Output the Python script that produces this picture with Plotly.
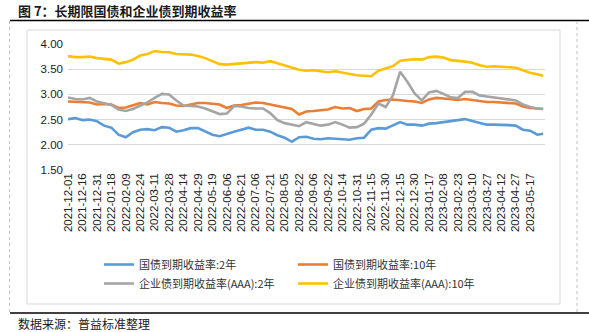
import plotly.graph_objects as go

# ---- data -------------------------------------------------------------
tick_labels = ["2021-12-01", "2021-12-16", "2021-12-31", "2022-01-18", "2022-02-09",
               "2022-02-24", "2022-03-11", "2022-03-28", "2022-04-14", "2022-04-29",
               "2022-05-19", "2022-06-06", "2022-06-21", "2022-07-06", "2022-07-21",
               "2022-08-05", "2022-08-22", "2022-09-06", "2022-09-22", "2022-10-14",
               "2022-10-31", "2022-11-15", "2022-11-30", "2022-12-15", "2022-12-30",
               "2023-01-17", "2023-02-08", "2023-02-23", "2023-03-10", "2023-03-27",
               "2023-04-12", "2023-04-27", "2023-05-17"]

# sample positions, in units of tick-label intervals (11 trading days each)
x_pos = [i * 0.5 for i in range(66)] + [32.9]

gov_2y = [2.51, 2.53, 2.49, 2.50, 2.47, 2.38, 2.34, 2.20, 2.15, 2.25, 2.30, 2.31, 2.29, 2.35,
          2.34, 2.26, 2.29, 2.33, 2.33, 2.26, 2.20, 2.17, 2.22, 2.26, 2.30, 2.34, 2.30, 2.30,
          2.26, 2.19, 2.14, 2.06, 2.15, 2.16, 2.12, 2.11, 2.13, 2.12, 2.12, 2.10, 2.13, 2.14,
          2.30, 2.33, 2.32, 2.38, 2.45, 2.40, 2.40, 2.38, 2.42, 2.43, 2.45, 2.46, 2.49, 2.51,
          2.47, 2.44, 2.40, 2.40, 2.40, 2.39, 2.38, 2.30, 2.28, 2.20, 2.22]

gov_10y = [2.86, 2.85, 2.85, 2.84, 2.80, 2.81, 2.80, 2.73, 2.74, 2.78, 2.83, 2.80, 2.85, 2.83,
           2.82, 2.78, 2.77, 2.80, 2.83, 2.83, 2.82, 2.80, 2.73, 2.78, 2.79, 2.81, 2.84, 2.83,
           2.80, 2.78, 2.75, 2.71, 2.60, 2.66, 2.67, 2.68, 2.70, 2.75, 2.72, 2.73, 2.67, 2.71,
           2.72, 2.86, 2.89, 2.90, 2.88, 2.87, 2.86, 2.83, 2.90, 2.93, 2.92, 2.90, 2.89, 2.91,
           2.89, 2.86, 2.85, 2.85, 2.84, 2.83, 2.82, 2.76, 2.73, 2.72, 2.71]

corp_2y = [2.94, 2.91, 2.90, 2.93, 2.86, 2.83, 2.79, 2.70, 2.67, 2.71, 2.78, 2.84, 2.93, 3.01,
           3.00, 2.88, 2.78, 2.77, 2.76, 2.72, 2.66, 2.61, 2.62, 2.77, 2.76, 2.73, 2.72, 2.72,
           2.63, 2.49, 2.43, 2.40, 2.37, 2.45, 2.42, 2.38, 2.40, 2.45, 2.40, 2.34, 2.35, 2.42,
           2.60, 2.82, 2.75, 2.98, 3.45, 3.25, 3.02, 2.88, 3.04, 3.07, 3.01, 2.94, 2.93, 3.05,
           3.05, 2.98, 2.96, 2.94, 2.91, 2.90, 2.88, 2.80, 2.75, 2.72, 2.71]

corp_10y = [3.76, 3.74, 3.74, 3.75, 3.72, 3.71, 3.69, 3.61, 3.64, 3.69, 3.77, 3.80, 3.86, 3.84,
            3.835, 3.80, 3.79, 3.79, 3.76, 3.72, 3.66, 3.60, 3.59, 3.60, 3.61, 3.62, 3.64, 3.63,
            3.66, 3.62, 3.58, 3.54, 3.49, 3.47, 3.48, 3.46, 3.44, 3.46, 3.43, 3.41, 3.38, 3.37,
            3.36, 3.47, 3.51, 3.56, 3.67, 3.69, 3.70, 3.69, 3.74, 3.75, 3.73, 3.68, 3.67, 3.65,
            3.63, 3.58, 3.55, 3.56, 3.55, 3.54, 3.53, 3.48, 3.43, 3.40, 3.37]

series_names = ["国债到期收益率:2年", "国债到期收益率:10年",
                "企业债到期收益率(AAA):2年", "企业债到期收益率(AAA):10年"]
series_values = [gov_2y, gov_10y, corp_2y, corp_10y]
series_colors = ["#5B9BD5", "#ED7D31", "#A5A5A5", "#FFC000"]

y_ticks = [1.5, 2.0, 2.5, 3.0, 3.5, 4.0]

# ---- layout geometry (pixels) ------------------------------------------
W, H = 589, 332
L, R, T, B = 68, 44, 44, 162
PW, PH = W - L - R, H - T - B


def px(xp):
    return (xp - L) / PW


def py(yp):
    return (H - B - yp) / PH


fig = go.Figure()
for name, vals, col in zip(series_names, series_values, series_colors):
    fig.add_trace(go.Scatter(x=x_pos, y=vals, name=name, mode="lines",
                             line=dict(color=col, width=2.6)))

fig.update_layout(
    width=W, height=H,
    margin=dict(l=L, r=R, t=T, b=B, autoexpand=False),
    paper_bgcolor="white", plot_bgcolor="white",
    font=dict(family="Liberation Sans, Arial, Noto Sans CJK SC", color="#333333", size=11),
    xaxis=dict(range=[0, 33.03], tickmode="array", tickvals=list(range(len(tick_labels))),
               ticktext=tick_labels, tickangle=-90, showgrid=False, zeroline=False,
               showline=False, ticks="", tickfont=dict(size=11.5, color="#222222")),
    yaxis=dict(range=[1.5, 4.0], tickvals=y_ticks, tickformat=".2f", showgrid=True,
               gridcolor="#D9D9D9", gridwidth=1, zeroline=False, showline=False,
               ticks="", ticklabelstandoff=4, tickfont=dict(size=11.5, color="#222222")),
    showlegend=True,
    legend=dict(orientation="h", x=px(99), y=py(250), xanchor="left", yanchor="top",
                entrywidth=149, font=dict(size=11, color="#333333",
                                          family="Noto Sans CJK SC, Liberation Sans"),
                bgcolor="rgba(0,0,0,0)", traceorder="normal"),
)

shapes = [
    # inner chart frame
    dict(type="rect", xref="paper", yref="paper", x0=px(27), x1=px(560), y0=py(304), y1=py(30),
         line=dict(color="#D9D9D9", width=1), fillcolor="rgba(0,0,0,0)", layer="below"),
    # top & bottom black rules
    dict(type="line", xref="paper", yref="paper", x0=px(10), x1=px(589), y0=py(20.5), y1=py(20.5),
         line=dict(color="#000000", width=1.5)),
    dict(type="line", xref="paper", yref="paper", x0=px(10), x1=px(589), y0=py(313), y1=py(313),
         line=dict(color="#000000", width=1.5)),
    # dashed side borders
    dict(type="line", xref="paper", yref="paper", x0=px(9.5), x1=px(9.5), y0=py(21), y1=py(312),
         line=dict(color="#BFBFBF", width=1, dash="dot")),
    dict(type="line", xref="paper", yref="paper", x0=px(577), x1=px(577), y0=py(21), y1=py(312),
         line=dict(color="#BFBFBF", width=1, dash="dot")),
]
fig.update_layout(shapes=shapes)

fig.add_annotation(text="<b>图 7：长期限国债和企业债到期收益率</b>", xref="paper", yref="paper",
                   x=px(16), y=py(10), xanchor="left", yanchor="middle", showarrow=False,
                   font=dict(size=13, color="#1a1a1a", family="Noto Sans CJK SC"))
fig.add_annotation(text="数据来源：普益标准整理", xref="paper", yref="paper",
                   x=px(16), y=py(323), xanchor="left", yanchor="middle", showarrow=False,
                   font=dict(size=12, color="#1a1a1a", family="Noto Sans CJK SC"))

fig.write_html("out.html")
